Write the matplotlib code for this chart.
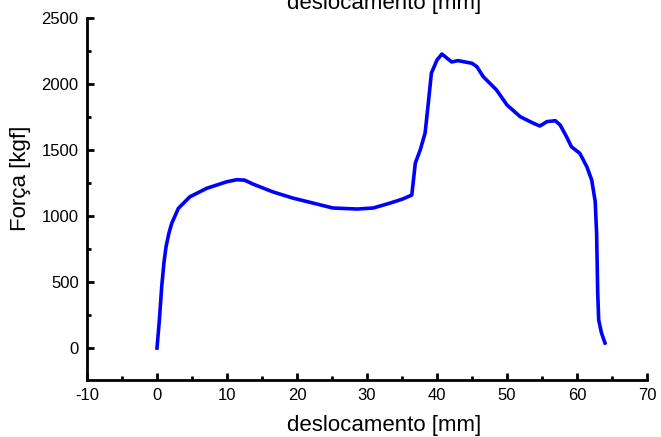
import matplotlib
matplotlib.use("Agg")
import matplotlib.pyplot as plt
from matplotlib.ticker import MultipleLocator

plt.rcParams['font.family'] = ['Liberation Sans', 'DejaVu Sans']
plt.rcParams['axes.unicode_minus'] = False

deslocamento = [0, 0.35, 0.67, 1.0, 1.29, 1.7, 2.1, 3.05, 4.7, 7.1, 10.0, 11.4,
                12.5, 13.8, 16.6, 19.4, 22.3, 25.1, 28.6, 30.9, 33.3, 35.1, 36.4,
                36.9, 37.6, 38.3, 38.7, 39.2, 40.0, 40.7, 41.4, 42.1, 43.0, 45.0,
                45.7, 46.6, 48.5, 50.0, 51.9, 53.8, 54.7, 55.7, 56.9, 57.6, 58.5,
                59.2, 60.4, 61.4, 62.1, 62.6, 62.8, 62.96, 63.1, 63.5, 64.0]
forca = [0, 220, 464, 650, 767, 870, 944, 1058, 1146, 1210, 1260, 1275,
         1272, 1240, 1182, 1136, 1098, 1061, 1053, 1061, 1098, 1129, 1159,
         1401, 1500, 1629, 1826, 2083, 2182, 2227, 2197, 2167, 2177, 2157,
         2131, 2056, 1955, 1841, 1752, 1702, 1682, 1715, 1722, 1689, 1601,
         1525, 1475, 1374, 1273, 1110, 871, 417, 212, 114, 38]

xticks = [-10, 0, 10, 20, 30, 40, 50, 60, 70]
yticks = [0, 500, 1000, 1500, 2000, 2500]

W, H = 661, 437
fig = plt.figure(figsize=(W / 100, H / 100), dpi=100)
L, R, T, B = 87, 647, 18, 380
ax = fig.add_axes([L / W, 1 - B / H, (R - L) / W, (B - T) / H])

ax.plot(deslocamento, forca, color='#0000ff', lw=2.6, solid_joinstyle='round')

ax.set_xlim(-10, 70)
ax.set_ylim(-242, 2500)
ax.set_xticks(xticks)
ax.set_yticks(yticks)
ax.xaxis.set_minor_locator(MultipleLocator(5))
ax.yaxis.set_minor_locator(MultipleLocator(250))

for s in ['top', 'right']:
    ax.spines[s].set_visible(False)
for s in ['left', 'bottom']:
    ax.spines[s].set_linewidth(2)

ax.tick_params(which='major', direction='in', length=5, width=2, labelsize=12, pad=6)
ax.tick_params(which='minor', direction='in', length=3, width=2)

fig.text(384 / W, 1 - 431 / H, 'deslocamento [mm]', ha='center', va='baseline', fontsize=16)
fig.text(384 / W, 1 - 9 / H, 'deslocamento [mm]', ha='center', va='baseline', fontsize=16)
fig.text(21 / W, 1 - 178 / H, 'Força [kgf]', ha='center', va='center', rotation=90, fontsize=16)

fig.savefig('out.png', dpi=100)
